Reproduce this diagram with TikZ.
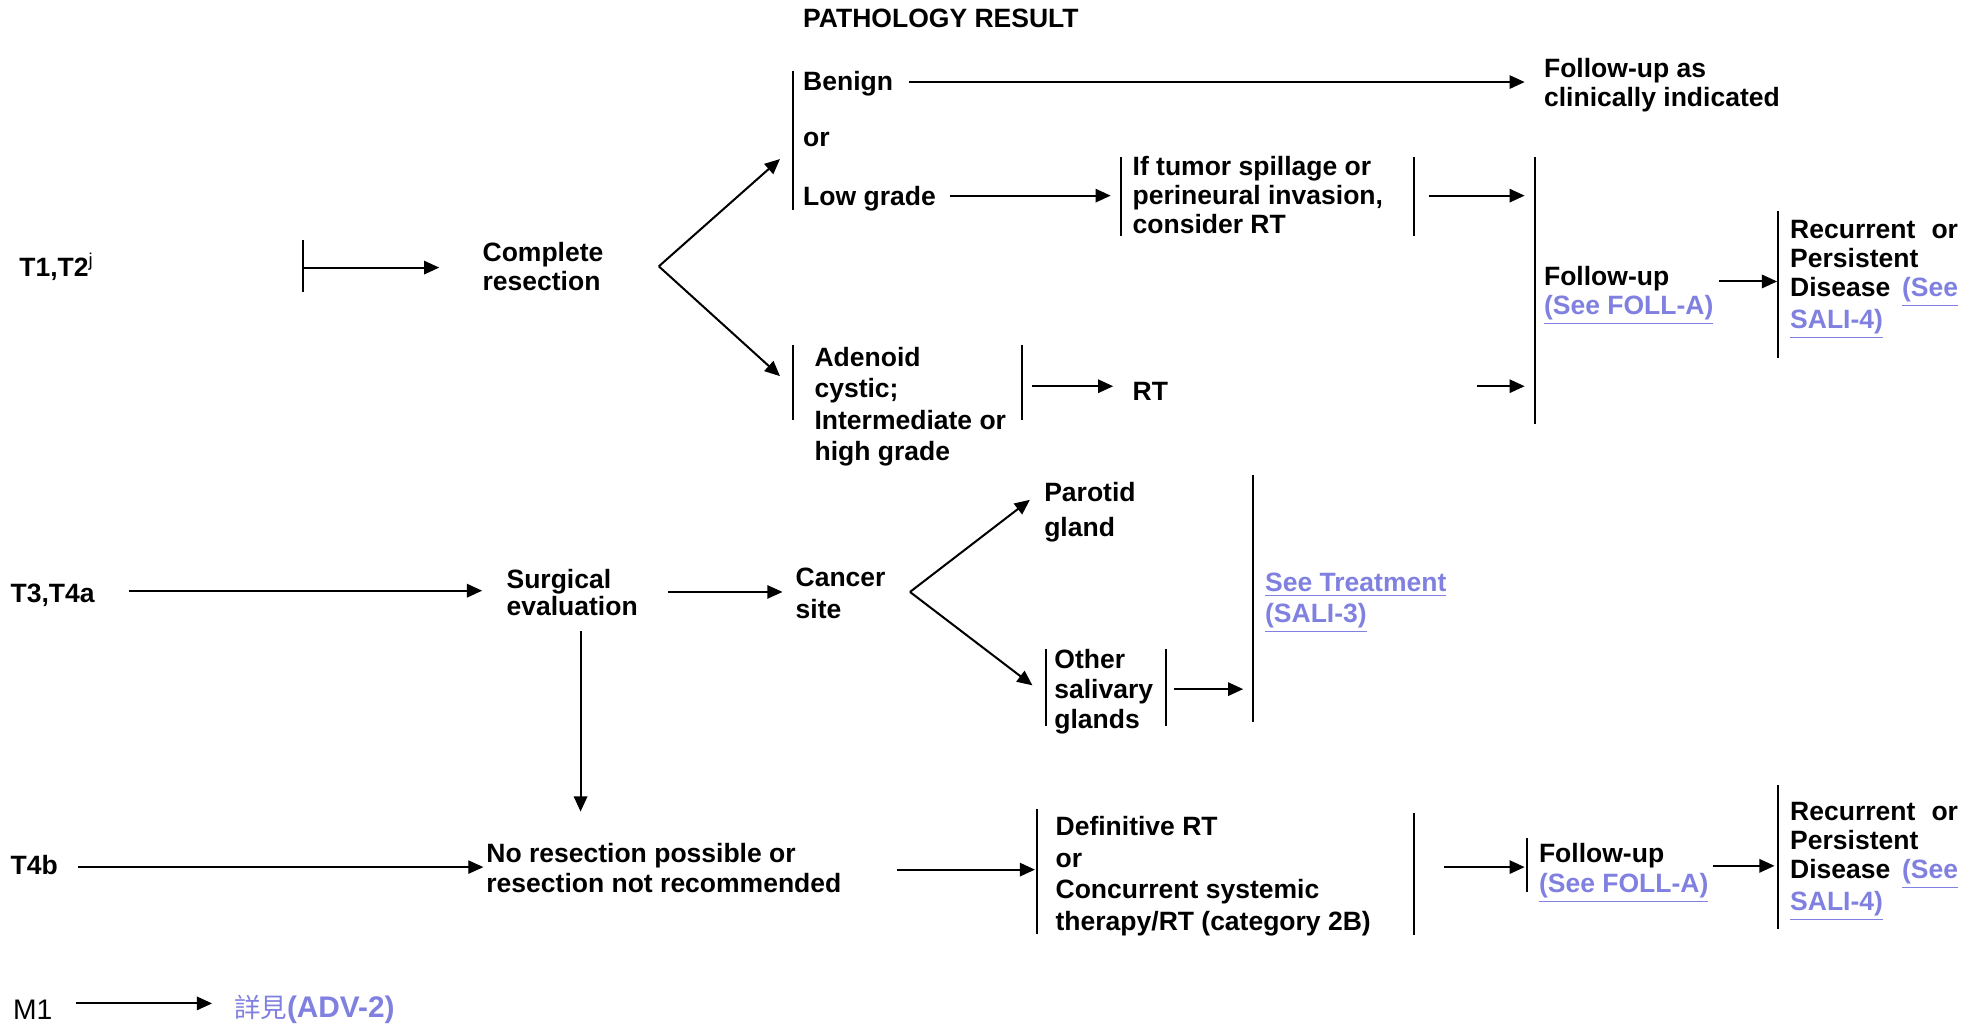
\documentclass[tikz,border=0pt]{standalone}
\usepackage{fontspec}
\setmainfont{Liberation Sans}
\newfontfamily\cjk{Noto Sans CJK TC}
\usetikzlibrary{arrows.meta}
\definecolor{linkc}{RGB}{128,128,224}
\newcommand{\lnk}[1]{\textcolor{linkc}{\underline{#1}}}
\begin{document}
\begin{tikzpicture}[x=0.5pt,y=-0.5pt,
  txt/.style={anchor=base west, inner sep=0pt, align=left, font=\bfseries\fontsize{10.5pt}{#1}\selectfont},
  txt/.default={11.5pt},
  ln/.style={line width=0.8pt},
  thinln/.style={line width=0.5pt},
  arr/.style={-{Triangle[length=6pt,width=5.3pt]}},
  barln/.style={line width=0.8pt}]
\useasboundingbox (0,0) rectangle (1568,811);

% ---------- texts (base = last line baseline for multi-line nodes) ----------
\node[txt] (title) at (636,22) {PATHOLOGY RESULT};
\node[txt] (t12) at (15,219) {T1,T2\textsuperscript{\mdseries j}};
\node[txt] (comp) at (382,230) {Complete\\resection};
\node[txt] (benign) at (636,72) {Benign};
\node[txt] (or1) at (636,116) {or};
\node[txt] (low) at (636,163) {Low grade};
\node[txt] (fu1) at (1223,84) {Follow-up as\\clinically indicated};
\node[txt] (spill) at (897,185) {If tumor spillage or\\perineural invasion,\\consider RT};
\node[txt={12.5pt}] (adeno) at (645,365) {Adenoid\\cystic;\\Intermediate or\\high grade};
\node[txt] (rt) at (897,317) {RT};
\node[txt] (fu2) at (1223,249) {Follow-up\\\lnk{(See FOLL-A)}};
\node[txt, text width=66.5pt] (rec1) at (1418,189) {Recurrent\hfill or\\Persistent\\Disease\hfill\lnk{(See}\\\lnk{SALI-4)}};

\node[txt] (t34) at (8,477) {T3,T4a};
\node[txt={11pt}] (surg) at (401,488) {Surgical\\evaluation};
\node[txt={12.5pt}] (canc) at (630,490) {Cancer\\site};
\node[txt={14pt}] (parot) at (827,425) {Parotid\\gland};
\node[txt={11.75pt}] (other) at (835,577) {Other\\salivary\\glands};
\node[txt={12pt}] (seet) at (1002,493) {\lnk{See Treatment}\\\lnk{(SALI-3)}};

\node[txt] (t4b) at (8,693) {T4b};
\node[txt={12pt}] (nores) at (385,707) {No resection possible or\\resection not recommended};
\node[txt={12.5pt}] (defin) at (836,737) {Definitive RT\\or\\Concurrent systemic\\therapy/RT (category 2B)};
\node[txt={12pt}] (fu3) at (1219,707) {Follow-up\\\lnk{(See FOLL-A)}};
\node[txt, text width=66.5pt] (rec2) at (1418,650) {Recurrent\hfill or\\Persistent\\Disease\hfill\lnk{(See}\\\lnk{SALI-4)}};

\node[txt, font=\mdseries\fontsize{11.2pt}{12pt}\selectfont] (m1) at (10,808) {M1};
\node[txt, font=\bfseries\fontsize{11.8pt}{12pt}\selectfont] (adv) at (185,806) {\lnk{{\cjk\mdseries\fontsize{10.5pt}{12pt}\selectfont 詳見}(ADV-2)}};

% ---------- coordinates ----------
\coordinate (b0t) at (240,190); \coordinate (b0b) at (240,231);
\coordinate (a0s) at (240,212); \coordinate (a0e) at (348,212);
\coordinate (br1) at (522,211); \coordinate (br1u) at (618,126); \coordinate (br1d) at (618,298);
\coordinate (bgt) at (628,56); \coordinate (bgb) at (628,166);
\coordinate (ben s) at (720,65); \coordinate (ben e) at (1208,65);
\coordinate (low s) at (753,155); \coordinate (low e) at (880,155);
\coordinate (spLt) at (888,124); \coordinate (spLb) at (888,187);
\coordinate (spRt) at (1120,124); \coordinate (spRb) at (1120,187);
\coordinate (sp s) at (1132,155); \coordinate (sp e) at (1208,155);
\coordinate (bigt) at (1216,124); \coordinate (bigb) at (1216,336);
\coordinate (adLt) at (628,273); \coordinate (adLb) at (628,333);
\coordinate (adRt) at (810,273); \coordinate (adRb) at (810,333);
\coordinate (ad s) at (818,306); \coordinate (ad e) at (882,306);
\coordinate (rt s) at (1170,306); \coordinate (rt e) at (1208,306);
\coordinate (fu s) at (1362,223); \coordinate (fu e) at (1408,223);
\coordinate (r1t) at (1409,167); \coordinate (r1b) at (1409,284);

\coordinate (t34 s) at (102,468); \coordinate (t34 e) at (382,468);
\coordinate (sc s) at (529,469); \coordinate (sc e) at (620,469);
\coordinate (br2) at (721,469); \coordinate (br2u) at (816,396); \coordinate (br2d) at (818,543);
\coordinate (otLt) at (829,514); \coordinate (otLb) at (829,575);
\coordinate (otRt) at (924,514); \coordinate (otRb) at (924,575);
\coordinate (ot s) at (930,546); \coordinate (ot e) at (985,546);
\coordinate (stt) at (993,376); \coordinate (stb) at (993,572);
\coordinate (dn s) at (460,500); \coordinate (dn e) at (460,643);

\coordinate (t4b s) at (62,687); \coordinate (t4b e) at (383,687);
\coordinate (nr s) at (711,689); \coordinate (nr e) at (820,689);
\coordinate (dfLt) at (822,641); \coordinate (dfLb) at (822,740);
\coordinate (dfRt) at (1120,644); \coordinate (dfRb) at (1120,741);
\coordinate (df s) at (1144,687); \coordinate (df e) at (1208,687);
\coordinate (f3t) at (1210,664); \coordinate (f3b) at (1210,707);
\coordinate (f3 s) at (1357,686); \coordinate (f3 e) at (1406,686);
\coordinate (r2t) at (1409,622); \coordinate (r2b) at (1409,736);

\coordinate (m1 s) at (60,795); \coordinate (m1 e) at (168,795);

% ---------- bars ----------
\draw[barln] (b0t) -- (b0b);
\draw[barln] (bgt) -- (bgb);
\draw[barln] (spLt) -- (spLb);
\draw[barln] (spRt) -- (spRb);
\draw[barln] (bigt) -- (bigb);
\draw[barln] (adLt) -- (adLb);
\draw[barln] (adRt) -- (adRb);
\draw[barln] (r1t) -- (r1b);
\draw[barln] (otLt) -- (otLb);
\draw[barln] (otRt) -- (otRb);
\draw[barln] (stt) -- (stb);
\draw[barln] (dfLt) -- (dfLb);
\draw[barln] (dfRt) -- (dfRb);
\draw[barln] (f3t) -- (f3b);
\draw[barln] (r2t) -- (r2b);

% ---------- arrows ----------
\draw[ln,arr] (a0s) -- (a0e);
\draw[ln,arr] (br1) -- (br1u);
\draw[ln,arr] (br1) -- (br1d);
\draw[ln,arr] (ben s) -- (ben e);
\draw[ln,arr] (low s) -- (low e);
\draw[ln,arr] (sp s) -- (sp e);
\draw[ln,arr] (ad s) -- (ad e);
\draw[ln,arr] (rt s) -- (rt e);
\draw[ln,arr] (fu s) -- (fu e);

\draw[ln,arr] (t34 s) -- (t34 e);
\draw[thinln,arr] (sc s) -- (sc e);
\draw[ln,arr] (br2) -- (br2u);
\draw[ln,arr] (br2) -- (br2d);
\draw[ln,arr] (ot s) -- (ot e);
\draw[ln,arr] (dn s) -- (dn e);

\draw[thinln,arr] (t4b s) -- (t4b e);
\draw[ln,arr] (nr s) -- (nr e);
\draw[ln,arr] (df s) -- (df e);
\draw[ln,arr] (f3 s) -- (f3 e);

\draw[ln,arr] (m1 s) -- (m1 e);
\end{tikzpicture}
\end{document}
